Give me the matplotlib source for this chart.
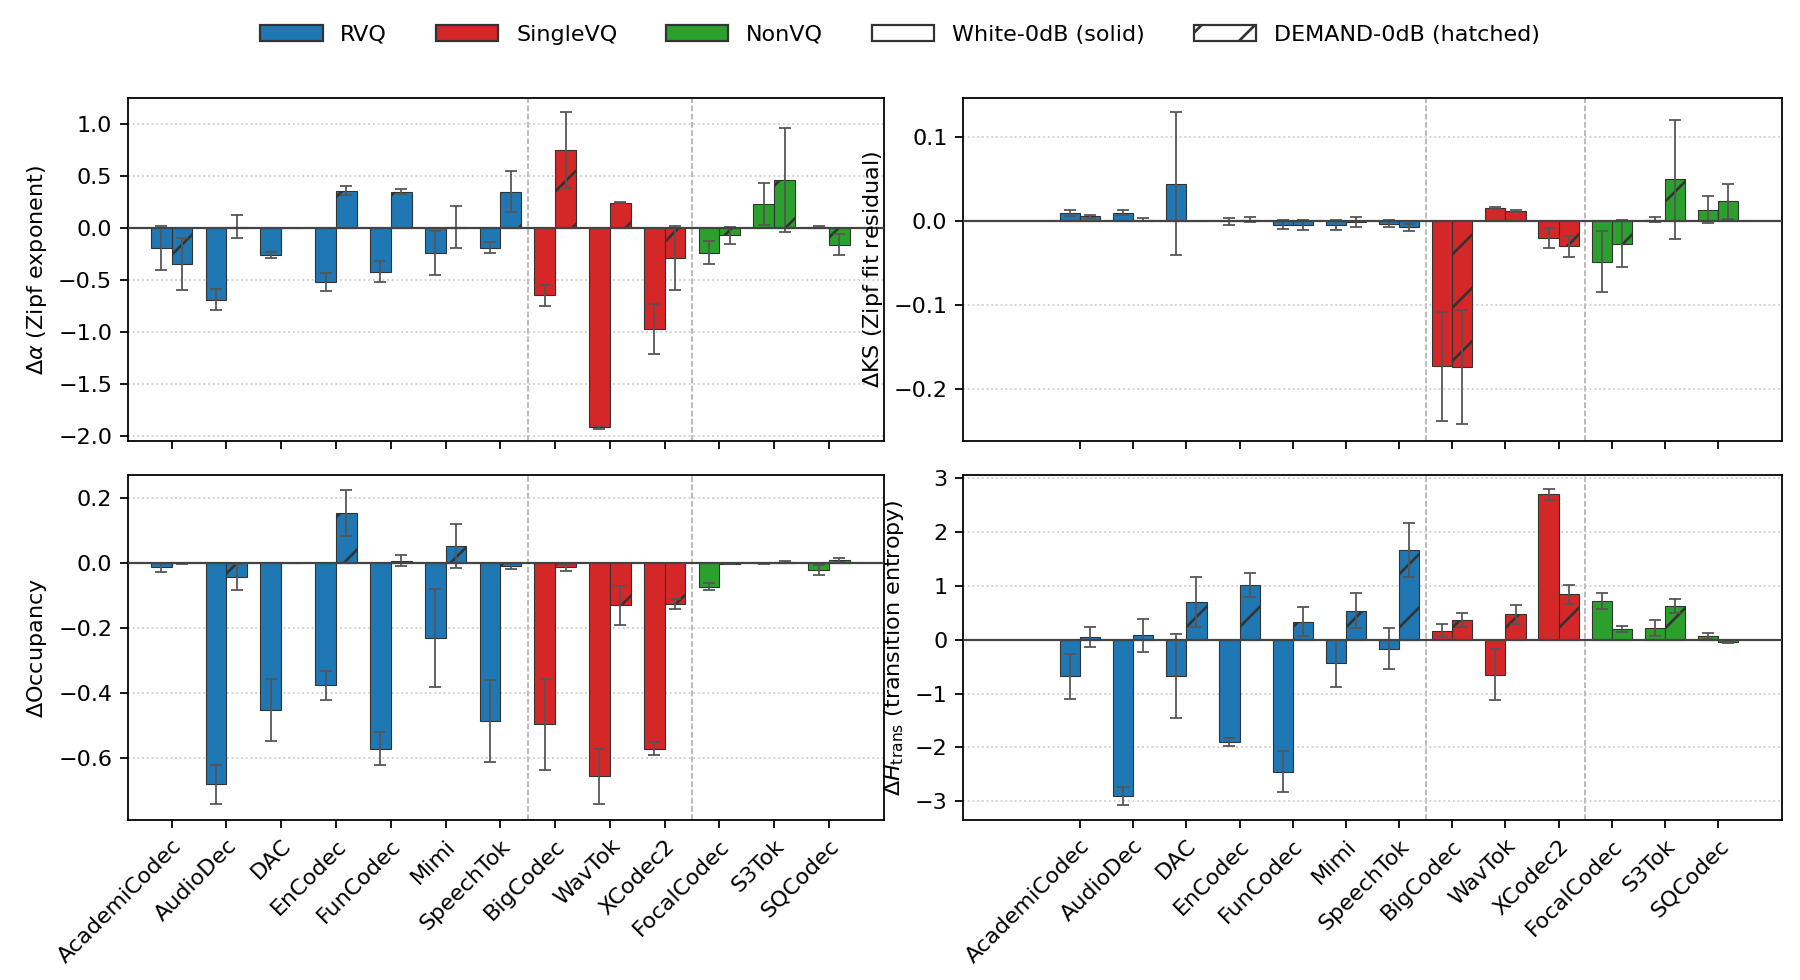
import numpy as np
import matplotlib.pyplot as plt
from matplotlib.patches import Patch

codecs = ['AcademiCodec', 'AudioDec', 'DAC', 'EnCodec', 'FunCodec', 'Mimi', 'SpeechTok',
          'BigCodec', 'WavTok', 'XCodec2', 'FocalCodec', 'S3Tok', 'SQCodec']
groups = ['RVQ'] * 7 + ['SingleVQ'] * 3 + ['NonVQ'] * 3
colors = {'RVQ': '#1f77b4', 'SingleVQ': '#d62728', 'NonVQ': '#2ca02c'}

alpha_white = [-0.19, -0.69, -0.26, -0.52, -0.42, -0.24, -0.19, -0.65, -1.92, -0.97, -0.24, 0.23, 0.01]
alpha_white_err = [0.21, 0.10, 0.03, 0.09, 0.10, 0.21, 0.05, 0.10, 0.01, 0.24, 0.11, 0.20, 0.01]
alpha_dem = [-0.35, 0.01, 0.0, 0.36, 0.35, 0.01, 0.35, 0.75, 0.24, -0.29, -0.07, 0.46, -0.16]
alpha_dem_err = [0.25, 0.11, 0.0, 0.04, 0.02, 0.20, 0.20, 0.37, 0.005, 0.31, 0.08, 0.50, 0.10]

ks_white = [0.010, 0.010, 0.045, 0.000, -0.004, -0.004, -0.003, -0.173, 0.016, -0.020, -0.048, 0.002, 0.014]
ks_white_err = [0.004, 0.003, 0.085, 0.004, 0.005, 0.006, 0.004, 0.065, 0.001, 0.012, 0.036, 0.003, 0.016]
ks_dem = [0.006, 0.002, 0.0, 0.002, -0.004, -0.001, -0.007, -0.174, 0.012, -0.030, -0.027, 0.050, 0.024]
ks_dem_err = [0.002, 0.002, 0.0, 0.003, 0.006, 0.006, 0.004, 0.068, 0.001, 0.012, 0.028, 0.071, 0.021]

occ_white = [-0.013, -0.68, -0.45, -0.375, -0.57, -0.23, -0.485, -0.495, -0.655, -0.57, -0.072, 0.0, -0.022]
occ_white_err = [0.013, 0.06, 0.095, 0.045, 0.05, 0.15, 0.125, 0.14, 0.085, 0.02, 0.01, 0.002, 0.015]
occ_dem = [0.0, -0.043, 0.0, 0.155, 0.008, 0.052, -0.008, -0.013, -0.13, -0.125, -0.002, 0.003, 0.010]
occ_dem_err = [0.002, 0.04, 0.001, 0.07, 0.018, 0.067, 0.01, 0.01, 0.06, 0.015, 0.002, 0.003, 0.007]

ht_white = [-0.68, -2.9, -0.67, -1.9, -2.45, -0.44, -0.17, 0.17, -0.65, 2.7, 0.72, 0.22, 0.07]
ht_white_err = [0.42, 0.17, 0.78, 0.07, 0.38, 0.44, 0.38, 0.12, 0.47, 0.10, 0.15, 0.15, 0.06]
ht_dem = [0.05, 0.08, 0.70, 1.02, 0.33, 0.54, 1.67, 0.37, 0.47, 0.84, 0.20, 0.62, -0.04]
ht_dem_err = [0.19, 0.31, 0.46, 0.22, 0.27, 0.33, 0.50, 0.13, 0.17, 0.18, 0.06, 0.13, 0.02]

panels = [
    (alpha_white, alpha_white_err, alpha_dem, alpha_dem_err, r'$\Delta\alpha$ (Zipf exponent)', (-2.05, 1.25)),
    (ks_white, ks_white_err, ks_dem, ks_dem_err, r'$\Delta$KS (Zipf fit residual)', (-0.262, 0.147)),
    (occ_white, occ_white_err, occ_dem, occ_dem_err, r'$\Delta$Occupancy', (-0.79, 0.27)),
    (ht_white, ht_white_err, ht_dem, ht_dem_err, r'$\Delta H_{\mathrm{trans}}$ (transition entropy)', (-3.35, 3.05)),
]

plt.rcParams['hatch.linewidth'] = 1.2
plt.rcParams['hatch.color'] = 'black'
fig = plt.figure(figsize=(11.25, 6.125), dpi=160)
# axes positions [left, bottom, width, height] in figure fractions
positions = [[0.071, 0.55, 0.420, 0.35], [0.535, 0.55, 0.455, 0.35],
             [0.071, 0.163, 0.420, 0.352], [0.535, 0.163, 0.455, 0.352]]
xlims = [(-0.8, 13.0), (-2.2, 13.2), (-0.8, 13.0), (-2.2, 13.2)]

x = np.arange(len(codecs))
w = 0.38
bar_colors = [colors[g] for g in groups]
ekw = dict(ecolor='#555555', elinewidth=0.8, capsize=2.5, capthick=0.8)

axes = []
for pos, xl, (wv, we, dv, de, lab, yl) in zip(positions, xlims, panels):
    ax = fig.add_axes(pos)
    axes.append(ax)
    ax.bar(x - w / 2, wv, w, yerr=we, color=bar_colors, edgecolor='#333333', linewidth=0.5, error_kw=ekw, zorder=2)
    ax.bar(x + w / 2, dv, w, yerr=de, color=bar_colors, edgecolor='#333333', linewidth=0.5, hatch='/', error_kw=ekw, zorder=2)
    ax.axhline(0, color='#444444', lw=1.0, zorder=3)
    for xv in (6.5, 9.5):
        ax.axvline(xv, color='#aaaaaa', ls='--', lw=0.7, zorder=1)
    ax.yaxis.grid(True, ls=':', color='#cccccc', lw=0.8, zorder=0)
    ax.set_ylabel(lab, fontsize=10)
    ax.set_ylim(*yl)
    ax.set_xlim(*xl)
    ax.set_xticks(x)
    ax.tick_params(labelsize=10)

axes[1].set_yticks([-0.2, -0.1, 0.0, 0.1])
axes[2].set_yticks([-0.6, -0.4, -0.2, 0.0, 0.2])
for ax in axes[:2]:
    ax.set_xticklabels([])
for ax in axes[2:]:
    ax.set_xticklabels(codecs, rotation=45, ha='right', rotation_mode='anchor', fontsize=10)

handles = [Patch(facecolor=colors['RVQ'], edgecolor='#333333', label='RVQ'),
           Patch(facecolor=colors['SingleVQ'], edgecolor='#333333', label='SingleVQ'),
           Patch(facecolor=colors['NonVQ'], edgecolor='#333333', label='NonVQ'),
           Patch(facecolor='white', edgecolor='#333333', label='White-0dB (solid)'),
           Patch(facecolor='white', edgecolor='#333333', hatch='/', label='DEMAND-0dB (hatched)')]
fig.legend(handles=handles, loc='upper center', ncol=5, frameon=False, fontsize=10,
           bbox_to_anchor=(0.5, 0.995), handlelength=2.8, columnspacing=2.2)

plt.savefig('out.png')
